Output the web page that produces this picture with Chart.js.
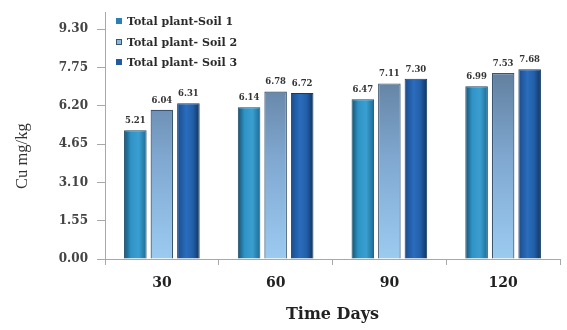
<!DOCTYPE html>
<html>
<head>
<meta charset="utf-8">
<script src="https://cdn.jsdelivr.net/npm/chart.js@4/dist/chart.umd.min.js"></script>
<style>
  html, body { margin: 0; padding: 0; background: #fff; }
  #wrap { position: relative; width: 567px; height: 330px; }
  canvas { display: block; }
  #legend {
    position: absolute; left: 116px; top: 14px;
    font-family: "DejaVu Serif", "Liberation Serif", serif;
    font-weight: bold; font-size: 11px; color: #2a2a2a;
  }
  #legend div { height: 20.5px; line-height: 16px; white-space: nowrap; }
  #legend span.sw {
    display: inline-block; width: 6px; height: 6px; margin-right: 5px;
    vertical-align: 1px; box-sizing: border-box;
  }
</style>
</head>
<body>
<div id="wrap">
  <canvas id="c" width="567" height="330"></canvas>
  <div id="legend"></div>
</div>
<script>
// Copper content of the whole plant over time, three soils
const days = ["30", "60", "90", "120"];
const soil1 = [5.21, 6.14, 6.47, 6.99];
const soil2 = [6.04, 6.78, 7.11, 7.53];
const soil3 = [6.31, 6.72, 7.30, 7.68];
const seriesNames = ["Total plant-Soil 1", "Total plant- Soil 2", "Total plant- Soil 3"];
const yTicks = [0, 1.55, 3.10, 4.65, 6.20, 7.75, 9.30];

const BOLD_SERIF = "'DejaVu Serif', 'Liberation Serif', serif";
const SERIF = "'Liberation Serif', 'DejaVu Serif', serif";
const CAT_PCT = 0.70, BAR_PCT = 0.85;

// Left/right edge shading for the cylinder-like bars
function sideGradient(stops) {
  return function (ctx) {
    const chart = ctx.chart;
    const xs = chart.scales.x;
    if (!xs || !chart.chartArea) return stops[1][1];
    const n = chart.data.datasets.length;
    const catW = (xs.right - xs.left) / chart.data.labels.length;
    const slot = catW * CAT_PCT / n;
    const cx = xs.getPixelForValue(ctx.dataIndex) + (ctx.datasetIndex - (n - 1) / 2) * slot;
    const w = slot * BAR_PCT;
    const g = chart.ctx.createLinearGradient(cx - w / 2, 0, cx + w / 2, 0);
    stops.forEach(s => g.addColorStop(s[0], s[1]));
    return g;
  };
}
function topGradient(ctx) {
  const chart = ctx.chart;
  const a = chart.chartArea;
  if (!a) return "#8fb8de";
  const g = chart.ctx.createLinearGradient(0, a.top + 60, 0, a.bottom);
  g.addColorStop(0, "#62809f");
  g.addColorStop(0.45, "#7fa7cf");
  g.addColorStop(1, "#9ccbf0");
  return g;
}

const valueLabels = {
  id: "valueLabels",
  afterDatasetsDraw(chart) {
    const ctx = chart.ctx;
    ctx.save();
    ctx.font = "bold 8.5px " + BOLD_SERIF;
    ctx.fillStyle = "#333";
    ctx.textAlign = "center";
    ctx.textBaseline = "bottom";
    chart.data.datasets.forEach((ds, di) => {
      chart.getDatasetMeta(di).data.forEach((el, i) => {
        ctx.fillText(ds.data[i].toFixed(2), el.x, el.y - 5);
      });
    });
    ctx.restore();
  }
};

const chart = new Chart(document.getElementById("c"), {
  type: "bar",
  data: {
    labels: days,
    datasets: [
      {
        label: seriesNames[0], data: soil1,
        backgroundColor: sideGradient([[0, "#16506f"], [0.3, "#2f93c6"], [0.65, "#3a9fd0"], [1, "#1c6a94"]]),
        borderColor: "#1d4a66", borderWidth: 1
      },
      {
        label: seriesNames[1], data: soil2,
        backgroundColor: topGradient,
        borderColor: "#3a5570", borderWidth: 1.2
      },
      {
        label: seriesNames[2], data: soil3,
        backgroundColor: sideGradient([[0, "#1a4c8a"], [0.4, "#2a6cbd"], [0.7, "#225fa8"], [1, "#12325e"]]),
        borderColor: "#163a66", borderWidth: 1
      }
    ]
  },
  options: {
    responsive: false,
    animation: false,
    devicePixelRatio: 1,
    layout: { padding: { top: 12, right: 7, left: 13, bottom: 6 } },
    datasets: { bar: { categoryPercentage: CAT_PCT, barPercentage: BAR_PCT } },
    plugins: { legend: { display: false }, tooltip: { enabled: false } },
    scales: {
      x: {
        grid: { display: true, drawOnChartArea: false, offset: true, tickLength: 6, color: "#a8a8a8" },
        border: { color: "#a8a8a8", width: 1 },
        ticks: { color: "#222", font: { family: BOLD_SERIF, size: 14, weight: "bold" }, padding: 10 },
        title: {
          display: true, text: "Time Days", color: "#222",
          font: { family: BOLD_SERIF, size: 16, weight: "bold" }, padding: { top: 3, bottom: 0 }
        }
      },
      y: {
        min: 0, max: 10,
        afterBuildTicks(scale) { scale.ticks = yTicks.map(v => ({ value: v })); },
        afterFit(scale) {
          scale.width = 92;
          // the axis runs past the last labelled tick, so no room is needed above it
          scale.paddingTop = 0;
        },
        grid: { display: true, drawOnChartArea: false, tickLength: 8, color: "#a8a8a8" },
        border: { color: "#a8a8a8", width: 1 },
        ticks: {
          color: "#444", font: { family: BOLD_SERIF, size: 12, weight: "bold" }, padding: 9,
          callback: v => v.toFixed(2)
        },
        title: {
          // trailing spaces keep the rotated title sitting a little below the axis middle
          display: true, text: "Cu mg/kg          ", color: "#333",
          font: { family: SERIF, size: 16.5 }, padding: { top: 0, bottom: 10 }
        }
      }
    }
  },
  plugins: [valueLabels]
});

// Legend with small shaded swatches
const swatches = [
  "background:#2a80b2;",
  "background:#8db6dc;border:1px solid #3a5570;",
  "background:#1f5aa2;"
];
const legend = document.getElementById("legend");
seriesNames.forEach((name, i) => {
  const row = document.createElement("div");
  const sw = document.createElement("span");
  sw.className = "sw";
  sw.style.cssText = swatches[i];
  row.appendChild(sw);
  row.appendChild(document.createTextNode(name));
  legend.appendChild(row);
});
</script>
</body>
</html>
